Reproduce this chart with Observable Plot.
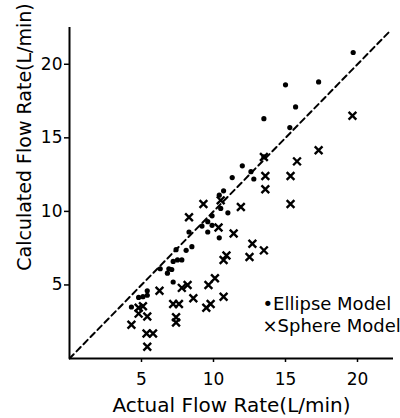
<!DOCTYPE html>
<html><head><meta charset="utf-8">
<script src="https://cdn.jsdelivr.net/npm/d3@7"></script>
<script src="https://cdn.jsdelivr.net/npm/@observablehq/plot@0.6"></script>
<style>body{margin:0;background:#fff;} svg{display:block;}</style>
</head><body><div id="chart"></div>
<script>
const ellipseX = [19.7,17.3,15.0,15.7,13.5,15.3,13.5,12.0,12.6,12.8,11.3,10.7,10.4,10.5,11.0,9.9,9.6,9.2,9.9,9.6,10.4,8.3,7.4,8.1,8.5,7.2,7.5,7.8,6.3,6.9,7.1,6.8,7.2,5.4,4.8,5.1,5.4,4.3];
const ellipseY = [20.8,18.8,18.6,17.1,16.3,15.7,13.7,13.1,12.7,12.2,12.3,11.4,11.1,10.2,9.9,9.7,9.3,9.0,9.05,8.6,8.2,8.6,7.4,7.35,7.6,6.6,6.7,6.7,6.1,6.1,6.05,5.8,5.2,4.6,4.15,4.2,4.3,3.5];
const sphereX = [19.65,17.3,15.8,13.5,13.6,15.35,13.6,15.35,11.9,9.3,10.5,8.3,10.35,11.4,12.7,13.5,12.5,10.9,10.7,10.1,9.65,10.7,9.8,9.5,7.8,8.2,6.25,8.6,7.2,7.6,7.4,7.4,4.8,5.1,4.8,5.4,4.3,5.35,5.8,5.4];
const sphereY = [16.5,14.15,13.4,13.7,12.4,12.4,11.5,10.5,10.3,10.5,10.75,9.6,8.9,8.5,7.8,7.35,6.9,7.0,6.7,5.45,5.0,4.2,3.7,3.45,4.8,5.0,4.6,4.1,3.7,3.7,2.8,2.45,3.45,3.55,3.05,2.85,2.3,1.7,1.7,0.8];
const tickValues = [5, 10, 15, 20];
const identityEnds = [0, 22.2];
const xLabel = "Actual Flow Rate(L/min)";
const yLabel = "Calculated Flow Rate(L/min)";
const legendLabels = ["\u2022Ellipse Model", "\u00d7Sphere Model"];

const ellipse = ellipseX.map((x, i) => ({x, y: ellipseY[i]}));
const sphere = sphereX.map((x, i) => ({x, y: sphereY[i]}));
const diag = identityEnds.map(v => ({x: v, y: v}));
const font = "DejaVu Sans, sans-serif";

const chart = Plot.plot({
  width: 400, height: 418,
  marginLeft: 69, marginRight: 7, marginTop: 27, marginBottom: 60,
  style: {fontFamily: font, fontSize: "17px", color: "#000", background: "#fff"},
  x: {domain: [0, 22.5]},
  y: {domain: [0, 22.5]},
  marks: [
    Plot.axisX({ticks: tickValues, tickSize: 4, tickPadding: 10, label: null, fontSize: 17, strokeWidth: 1.5}),
    Plot.axisY({ticks: tickValues, tickSize: 5, tickPadding: 2, label: null, fontSize: 17, strokeWidth: 1.5}),
    Plot.ruleX([0], {stroke: "#000", strokeWidth: 2}),
    Plot.ruleY([0], {stroke: "#000", strokeWidth: 2}),
    Plot.line(diag, {x: "x", y: "y", stroke: "#000", strokeWidth: 2, strokeDasharray: "6,4"}),
    Plot.dot(ellipse, {x: "x", y: "y", r: 2.6, fill: "#000", stroke: "none"}),
    Plot.dot(sphere, {x: "x", y: "y", symbol: "times", r: 3.6, stroke: "#000", strokeWidth: 2.4}),
    Plot.text([xLabel], {text: d => d, frameAnchor: "bottom", textAnchor: "middle", lineAnchor: "middle", dy: 47, fontSize: 20}),
    Plot.text([yLabel], {text: d => d, frameAnchor: "left", textAnchor: "middle", lineAnchor: "middle", rotate: -90, dx: -45, dy: -56, fontSize: 19}),
    Plot.text([legendLabels[0]], {text: d => d, frameAnchor: "bottom-left", textAnchor: "start", lineAnchor: "middle", dx: 193, dy: -54, fontSize: 18}),
    Plot.text([legendLabels[1]], {text: d => d, frameAnchor: "bottom-left", textAnchor: "start", lineAnchor: "middle", dx: 193, dy: -32, fontSize: 18})
  ]
});
document.getElementById("chart").appendChild(chart);
</script></body></html>
